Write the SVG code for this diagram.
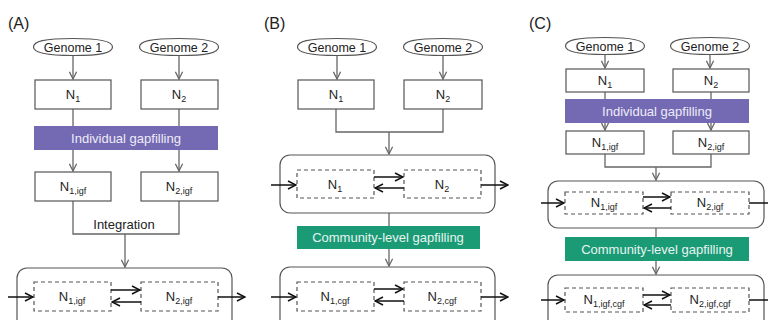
<svg xmlns="http://www.w3.org/2000/svg" width="768" height="320" viewBox="0 0 768 320">
<defs>
<marker id="ag" viewBox="0 0 10 10" refX="9" refY="5" markerWidth="9" markerHeight="9" markerUnits="userSpaceOnUse" orient="auto">
<path d="M1,1 L9,5 L1,9" fill="none" stroke="#666" stroke-width="1.4"/>
</marker>
<marker id="ab" viewBox="0 0 10 10" refX="9" refY="5" markerWidth="10" markerHeight="10" markerUnits="userSpaceOnUse" orient="auto">
<path d="M1,1 L9,5 L1,9" fill="none" stroke="#111" stroke-width="1.5"/>
</marker>
<path id="oval" d="M-39.5,0 C-39.5,-5.5 -29,-8.5 0,-8.5 C29,-8.5 39.5,-5.5 39.5,0 C39.5,5.5 29,8.5 0,8.5 C-29,8.5 -39.5,5.5 -39.5,0 Z"/>
</defs>
<style>
text{font-family:"Liberation Sans",Arial,sans-serif;fill:#222;}
.lab{font-size:16px;}
.t{font-size:13px;text-anchor:middle;}
.gn{font-size:12.5px;text-anchor:middle;}
.s{font-size:9px;}
.g{fill:#fff;stroke:#555;stroke-width:1.2;}
.b{fill:#fff;stroke:#555;stroke-width:1.2;}
.d{fill:none;stroke:#555;stroke-width:1.2;stroke-dasharray:4 3;}
.c{fill:#fff;stroke:#555;stroke-width:1.2;}
.p{fill:#7469b3;}
.gr{fill:#1b9a76;}
.bt{font-size:13px;text-anchor:middle;fill:#eeecf8;}
.gt{font-size:13px;text-anchor:middle;fill:#e8f5f0;}
.cn{fill:none;stroke:#666;stroke-width:1.3;}
.ca{fill:none;stroke:#666;stroke-width:1.3;marker-end:url(#ag);}
.bk{fill:none;stroke:#111;stroke-width:1.5;marker-end:url(#ab);}
</style>

<!-- Panel labels -->
<text class="lab" x="8" y="29">(A)</text>
<text class="lab" x="264" y="29">(B)</text>
<text class="lab" x="529" y="29">(C)</text>

<!-- ===== Panel A ===== -->
<g id="connectors-A">
<path class="ca" d="M73,55 V79"/>
<path class="ca" d="M179,55 V79"/>
<path class="ca" d="M73,109 V171"/>
<path class="ca" d="M179,109 V171"/>
<path class="cn" d="M73,201 V234 H179 V201"/>
<path class="ca" d="M125,234 V267"/>
</g>
<g id="A-genome1"><use href="#oval" class="g" transform="translate(73,47)"/><text class="gn" x="73" y="51.5">Genome 1</text></g>
<g id="A-genome2"><use href="#oval" class="g" transform="translate(179,47)"/><text class="gn" x="179" y="51.5">Genome 2</text></g>
<g id="A-N1"><rect class="b" x="35" y="80" width="76" height="29"/><text class="t" x="73" y="99">N<tspan class="s" dy="3">1</tspan></text></g>
<g id="A-N2"><rect class="b" x="141" y="80" width="77" height="29"/><text class="t" x="179" y="99">N<tspan class="s" dy="3">2</tspan></text></g>
<g id="A-igf"><rect class="p" x="34" y="126" width="184" height="24"/><text class="bt" x="126" y="142.5">Individual gapfilling</text></g>
<g id="A-N1igf"><rect class="b" x="35" y="172" width="76" height="29"/><text class="t" x="73" y="191">N<tspan class="s" dy="3">1,igf</tspan></text></g>
<g id="A-N2igf"><rect class="b" x="141" y="172" width="77" height="29"/><text class="t" x="179" y="191">N<tspan class="s" dy="3">2,igf</tspan></text></g>
<g id="A-integration"><text class="t" x="124" y="229">Integration</text></g>
<g id="A-community">
<rect class="c" x="17" y="268" width="215" height="72" rx="10"/>
<rect class="d" x="34" y="282" width="77" height="29"/>
<text class="t" x="72" y="301">N<tspan class="s" dy="3">1,igf</tspan></text>
<rect class="d" x="141" y="282" width="77" height="29"/>
<text class="t" x="179" y="301">N<tspan class="s" dy="3">2,igf</tspan></text>
</g>
<g id="A-flux">
<path class="bk" d="M8,297 H33"/>
<path class="bk" d="M218,297 H245"/>
<path class="bk" d="M111,290 H140"/>
<path class="bk" d="M141,302 H112"/>
</g>

<!-- ===== Panel B ===== -->
<g id="connectors-B">
<path class="ca" d="M337,55 V79"/>
<path class="ca" d="M443,55 V79"/>
<path class="cn" d="M336,109 V132 H443 V109"/>
<path class="ca" d="M389,132 V154"/>
<path class="ca" d="M389,213 V266"/>
</g>
<g id="B-genome1"><use href="#oval" class="g" transform="translate(337,47)"/><text class="gn" x="337" y="51.5">Genome 1</text></g>
<g id="B-genome2"><use href="#oval" class="g" transform="translate(443,47)"/><text class="gn" x="443" y="51.5">Genome 2</text></g>
<g id="B-N1"><rect class="b" x="298" y="80" width="76" height="29"/><text class="t" x="336" y="99">N<tspan class="s" dy="3">1</tspan></text></g>
<g id="B-N2"><rect class="b" x="404" y="80" width="78" height="29"/><text class="t" x="443" y="99">N<tspan class="s" dy="3">2</tspan></text></g>
<g id="B-community1">
<rect class="c" x="280" y="155" width="215" height="58" rx="10"/>
<rect class="d" x="297" y="170" width="77" height="28"/>
<text class="t" x="335" y="189">N<tspan class="s" dy="3">1</tspan></text>
<rect class="d" x="404" y="170" width="77" height="28"/>
<text class="t" x="442" y="189">N<tspan class="s" dy="3">2</tspan></text>
</g>
<g id="B-cgf"><rect class="gr" x="297" y="226" width="183" height="23"/><text class="gt" x="388" y="242">Community-level gapfilling</text></g>
<g id="B-community2">
<rect class="c" x="280" y="267" width="215" height="72" rx="10"/>
<rect class="d" x="297" y="282" width="77" height="29"/>
<text class="t" x="335" y="301">N<tspan class="s" dy="3">1,cgf</tspan></text>
<rect class="d" x="404" y="282" width="77" height="29"/>
<text class="t" x="442" y="301">N<tspan class="s" dy="3">2,cgf</tspan></text>
</g>
<g id="B-flux">
<path class="bk" d="M271,185 H296"/>
<path class="bk" d="M481,185 H508"/>
<path class="bk" d="M374,177 H403"/>
<path class="bk" d="M404,188 H375"/>
<path class="bk" d="M271,297 H296"/>
<path class="bk" d="M481,297 H508"/>
<path class="bk" d="M374,289 H403"/>
<path class="bk" d="M404,301 H375"/>
</g>

<!-- ===== Panel C ===== -->
<g id="connectors-C">
<path class="ca" d="M605,54 V68"/>
<path class="ca" d="M710,54 V68"/>
<path class="ca" d="M605,92 V130"/>
<path class="ca" d="M711,92 V130"/>
<path class="cn" d="M605,154 V167 H711 V154"/>
<path class="ca" d="M656,167 V180"/>
<path class="ca" d="M656,228 V274"/>
</g>
<g id="C-genome1"><use href="#oval" class="g" transform="translate(605,46)"/><text class="gn" x="605" y="50.5">Genome 1</text></g>
<g id="C-genome2"><use href="#oval" class="g" transform="translate(710,46)"/><text class="gn" x="710" y="50.5">Genome 2</text></g>
<g id="C-N1"><rect class="b" x="566" y="69" width="78" height="23"/><text class="t" x="605" y="85">N<tspan class="s" dy="3">1</tspan></text></g>
<g id="C-N2"><rect class="b" x="673" y="69" width="76" height="23"/><text class="t" x="711" y="85">N<tspan class="s" dy="3">2</tspan></text></g>
<g id="C-igf"><rect class="p" x="565" y="99" width="184" height="24"/><text class="bt" x="657" y="115.5">Individual gapfilling</text></g>
<g id="C-N1igf"><rect class="b" x="566" y="131" width="78" height="23"/><text class="t" x="605" y="147">N<tspan class="s" dy="3">1,igf</tspan></text></g>
<g id="C-N2igf"><rect class="b" x="673" y="131" width="76" height="23"/><text class="t" x="711" y="147">N<tspan class="s" dy="3">2,igf</tspan></text></g>
<g id="C-community1">
<rect class="c" x="548" y="181" width="216" height="47" rx="10"/>
<rect class="d" x="565" y="192" width="78" height="22"/>
<text class="t" x="604" y="207">N<tspan class="s" dy="3">1,igf</tspan></text>
<rect class="d" x="671" y="192" width="78" height="22"/>
<text class="t" x="710" y="207">N<tspan class="s" dy="3">2,igf</tspan></text>
</g>
<g id="C-cgf"><rect class="gr" x="565" y="237" width="184" height="24"/><text class="gt" x="657" y="253.5">Community-level gapfilling</text></g>
<g id="C-community2">
<rect class="c" x="548" y="275" width="216" height="64" rx="10"/>
<rect class="d" x="565" y="288" width="78" height="24"/>
<text class="t" x="604" y="304">N<tspan class="s" dy="3">1,igf,cgf</tspan></text>
<rect class="d" x="671" y="288" width="78" height="24"/>
<text class="t" x="710" y="304">N<tspan class="s" dy="3">2,igf,cgf</tspan></text>
</g>
<g id="C-flux">
<path class="bk" d="M541,203 H564"/>
<path class="bk" d="M749,203 H778"/>
<path class="bk" d="M643,197 H670"/>
<path class="bk" d="M671,208 H644"/>
<path class="bk" d="M541,300 H564"/>
<path class="bk" d="M749,300 H778"/>
<path class="bk" d="M643,295 H670"/>
<path class="bk" d="M671,305 H644"/>
</g>
</svg>
